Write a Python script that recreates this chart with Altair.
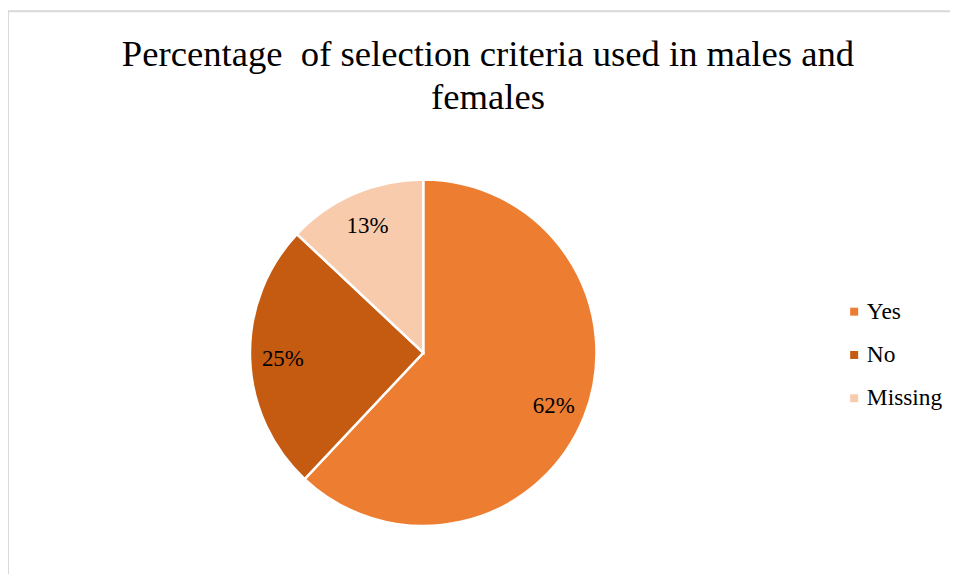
import altair as alt
import pandas as pd

categories = ["Yes", "No", "Missing"]
values = [62, 25, 13]
labels = ["62%", "25%", "13%"]
colors = ["#ED7D31", "#C55A11", "#F8CBAD"]
title_text = "Percentage\u00a0 of selection criteria used in males and\nfemales"

df = pd.DataFrame({"category": categories, "value": values, "label": labels,
                   "order": list(range(len(categories)))})

FONT = "Liberation Serif"
CX, CY = 413, 341

base = alt.Chart(df).encode(
    theta=alt.Theta("value:Q", stack=True),
    order=alt.Order("order:Q"),
)

pie = base.mark_arc(outerRadius=174, stroke="white", strokeWidth=2.5).encode(
    x=alt.value(CX), y=alt.value(CY),
    color=alt.Color("category:N",
                    scale=alt.Scale(domain=categories, range=colors),
                    sort=categories,
                    legend=alt.Legend(title=None, orient="none", legendX=834, legendY=288,
                                      symbolType="square", symbolSize=64,
                                      labelFont=FONT, labelFontSize=23.5, labelColor="#000000",
                                      rowPadding=18.5, labelOffset=1, symbolStrokeWidth=0)),
)

text = base.mark_text(radius=141, font=FONT, fontSize=23, color="#000000", dy=2).encode(
    x=alt.value(CX), y=alt.value(CY),
    text="label:N",
)

title = alt.Chart(pd.DataFrame({"t": [title_text]})).mark_text(
    font=FONT, fontSize=36.8, color="#000000", lineBreak="\n", lineHeight=43,
    align="center", baseline="alphabetic"
).encode(x=alt.value(478), y=alt.value(53), text="t:N")

left_border = alt.Chart(pd.DataFrame({"a": [0]})).mark_rule(color="#D9D9D9", strokeWidth=2).encode(
    x=alt.value(-4), y=alt.value(-3), y2=alt.value(600))
top_border = alt.Chart(pd.DataFrame({"a": [0]})).mark_rule(color="#D9D9D9", strokeWidth=2).encode(
    y=alt.value(-2), x=alt.value(-5), x2=alt.value(960))

chart = alt.layer(left_border, top_border, pie, text, title).properties(
    width=942, height=562,
    padding={"left": 4, "top": 4, "right": 0, "bottom": 0},
    autosize=alt.AutoSizeParams(type="none"),
).configure_view(stroke=None)

chart.save("out.html", embed_options={"renderer": "svg", "actions": False})
